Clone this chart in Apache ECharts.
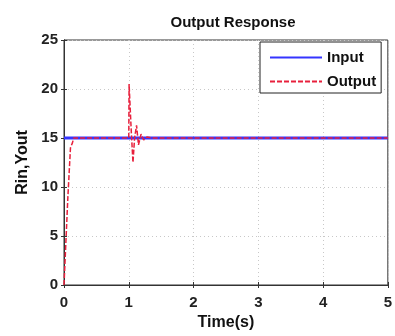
<!DOCTYPE html>
<html><head><meta charset="utf-8">
<script src="https://cdn.jsdelivr.net/npm/echarts@6/dist/echarts.min.js"></script>
<style>html,body{margin:0;padding:0;background:#fff}#c{width:395px;height:336px}</style>
</head><body><div id="c"></div>
<script>
var xTicks = [0, 1, 2, 3, 4, 5];
var yTicks = [0, 5, 10, 15, 20, 25];
var inputData = [[0, 15], [5, 15]];
var outputData = [[0, 0], [0.02, 3], [0.04, 6], [0.06, 9], [0.08, 11.5], [0.1, 14], [0.13, 14.5], [0.15, 15], [1.0, 15], [1.005, 20.5], [1.04, 15.5], [1.065, 12.5], [1.09, 15], [1.12, 16.3], [1.15, 14.3], [1.19, 15.4], [1.23, 14.8], [1.28, 15.1], [1.35, 15], [5, 15]];
var chart = echarts.init(document.getElementById('c'));
var font = 'Liberation Sans, Arial, sans-serif';
var gridLine = {show: true, lineStyle: {color: '#c8c8c8', type: [1, 3], width: 1}};
chart.setOption({
  animation: false,
  textStyle: {fontFamily: font},
  title: {text: 'Output Response', left: 228, textAlign: 'center', top: 10, textStyle: {fontSize: 15, fontWeight: 'bold', color: '#111', fontFamily: font}},
  grid: {left: 64, right: 3, top: 40, bottom: 46, show: true, borderColor: '#333', borderWidth: 1},
  legend: {
    orient: 'vertical', left: 260, top: 42, backgroundColor: '#fff', borderColor: '#222', borderWidth: 1,
    padding: [8, 5, 4, 9], itemGap: 9, itemWidth: 52, itemHeight: 14,
    itemStyle: {opacity: 0},
    textStyle: {fontSize: 15, fontWeight: 'bold', color: '#111', fontFamily: font},
    data: ['Input', 'Output']
  },
  xAxis: [{
    type: 'value', min: 0, max: 5, interval: 1,
    name: 'Time(s)', nameLocation: 'middle', nameGap: 30,
    nameTextStyle: {fontSize: 16, fontWeight: 'bold', color: '#111'},
    axisLine: {show: true, lineStyle: {color: '#333'}},
    axisTick: {inside: true, length: 3, lineStyle: {color: '#333'}},
    axisLabel: {fontSize: 15, fontWeight: 'bold', color: '#222', margin: 10, formatter: function (v) { return xTicks.indexOf(v) >= 0 ? String(v) : ''; }},
    splitLine: gridLine
  }, {
    type: 'value', min: 0, max: 5, interval: 1, position: 'top',
    axisLine: {show: true, lineStyle: {color: '#333'}},
    axisTick: {inside: true, length: 3, lineStyle: {color: '#333'}},
    axisLabel: {show: false}, splitLine: {show: false}
  }],
  yAxis: [{
    type: 'value', min: 0, max: 25, interval: 5,
    name: 'Rin,Yout', nameLocation: 'middle', nameGap: 31,
    nameTextStyle: {fontSize: 16, fontWeight: 'bold', color: '#111'},
    axisLine: {show: true, lineStyle: {color: '#333'}},
    axisTick: {inside: true, length: 3, lineStyle: {color: '#333'}},
    axisLabel: {fontSize: 15, fontWeight: 'bold', color: '#222', margin: 6, formatter: function (v) { return yTicks.indexOf(v) >= 0 ? String(v) : ''; }},
    splitLine: gridLine
  }, {
    type: 'value', min: 0, max: 25, interval: 5, position: 'right',
    axisLine: {show: true, lineStyle: {color: '#333'}},
    axisTick: {inside: true, length: 3, lineStyle: {color: '#333'}},
    axisLabel: {show: false}, splitLine: {show: false}
  }],
  series: [{
    name: 'Input', type: 'line', data: inputData, symbol: 'none',
    itemStyle: {color: '#3535ff'}, lineStyle: {color: '#3535ff', width: 3}
  }, {
    name: 'Output', type: 'line', data: outputData, symbol: 'none',
    itemStyle: {color: '#e8203c'}, lineStyle: {color: '#e8203c', width: 1.5, type: [5, 2]}
  }]
});
</script></body></html>
